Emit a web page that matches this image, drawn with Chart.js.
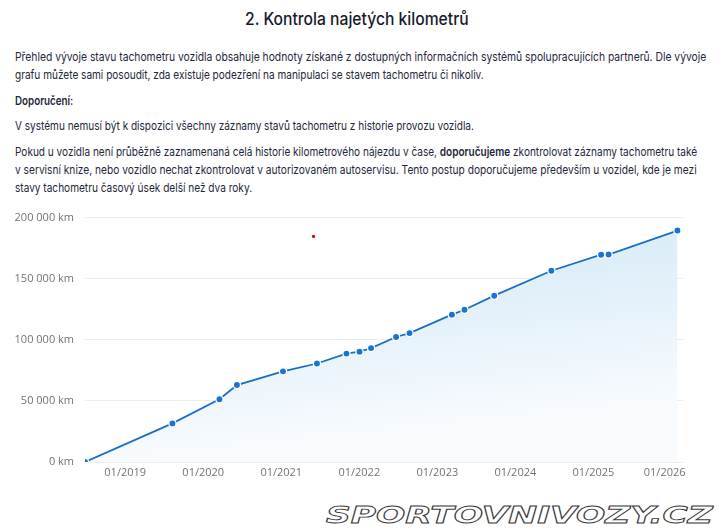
<!DOCTYPE html>
<html>
<head>
<meta charset="utf-8">
<script src="https://cdn.jsdelivr.net/npm/chart.js@4"></script>
<style>
  html,body{margin:0;padding:0;background:#fff;}
  body{width:720px;height:532px;position:relative;overflow:hidden;font-family:"Inter","Noto Sans",sans-serif;color:#1c2033;}
  .t{position:absolute;white-space:nowrap;transform-origin:0 50%;line-height:1;}
  .title{font-size:17px;font-weight:500;color:#161a2b;}
  .p{font-size:12px;color:#23273a;}
  .b{font-weight:600;}
  #wm{position:absolute;white-space:nowrap;transform-origin:0 50%;font-family:"DejaVu Sans",sans-serif;font-weight:bold;font-style:italic;font-size:23px;color:#fff;-webkit-text-stroke:0.9px #3a3a3a;letter-spacing:0px;line-height:1;}
  #cw{position:absolute;left:0;top:200px;width:720px;height:290px;}
</style>
</head>
<body>
<div class="t title" data-x="245" data-y="19" data-w="224">2. Kontrola najetých kilometrů</div>
<div class="t p" data-x="15" data-y="57" data-w="691">Přehled vývoje stavu tachometru vozidla obsahuje hodnoty získané z dostupných informačních systémů spolupracujících partnerů. Dle vývoje</div>
<div class="t p" data-x="15" data-y="75" data-w="469">grafu můžete sami posoudit, zda existuje podezření na manipulaci se stavem tachometru či nikoliv.</div>
<div class="t p b" data-x="15" data-y="101" data-w="58">Doporučení:</div>
<div class="t p" data-x="15" data-y="126" data-w="459">V systému nemusí být k dispozici všechny záznamy stavů tachometru z historie provozu vozidla.</div>
<div class="t p" data-x="15" data-y="152" data-w="682">Pokud u vozidla není průběžně zaznamenaná celá historie kilometrového nájezdu v čase, <span class="b">doporučujeme</span> zkontrolovat záznamy tachometru také</div>
<div class="t p" data-x="15" data-y="170" data-w="682">v servisní knize, nebo vozidlo nechat zkontrolovat v autorizovaném autoservisu. Tento postup doporučujeme především u vozidel, kde je mezi</div>
<div class="t p" data-x="15" data-y="188" data-w="237">stavy tachometru časový úsek delší než dva roky.</div>
<div id="wm" data-x="326" data-y="515" data-w="386">SPORTOVNIVOZY.CZ</div>
<div id="cw"><canvas id="c" width="720" height="290"></canvas></div>
<script>
// ---- data ----
const recordDates = ["2018-06-27","2019-08-10","2020-03-17","2020-06-07","2021-01-09","2021-06-17","2021-11-02","2022-01-02","2022-02-25","2022-06-22","2022-08-24","2023-03-10","2023-05-08","2023-09-24","2024-06-18","2025-02-06","2025-03-13","2026-01-29"];
const mileageKm = [0,31600,51400,63000,74200,80600,88700,90300,93200,102300,105500,120600,124600,136100,156500,169600,169800,189400];
const strayMarkDate = ["2021-06-01"];
const strayMarkKm = [184600];
const yTickValues = [0,50000,100000,150000,200000];
const xTickYears = [2019,2020,2021,2022,2023,2024,2025,2026];
const xRange = ["2018-06-27","2026-02-24"];

// ---- helpers ----
function toYear(s){
  const d = new Date(s+"T00:00:00Z");
  const y = d.getUTCFullYear();
  const a = Date.UTC(y,0,1), b = Date.UTC(y+1,0,1);
  return y + (d.getTime()-a)/(b-a);
}
function fmtKm(v){ return String(Math.round(v)).replace(/\B(?=(\d{3})+(?!\d))/g," ")+" km"; }

// fit text lines
document.querySelectorAll("[data-w]").forEach(el=>{
  const w = el.offsetWidth, h = el.offsetHeight;
  el.style.left = el.dataset.x+"px";
  el.style.top = (parseFloat(el.dataset.y)-h/2)+"px";
  el.style.transform = "scaleX("+(parseFloat(el.dataset.w)/w)+")";
});

const xMin = toYear(xRange[0]), xMax = toYear(xRange[1]);
const labelInset = 0.235;

const ctx = document.getElementById("c").getContext("2d");
new Chart(ctx,{
  type:"line",
  data:{
    datasets:[
      {
        data: recordDates.map((d,i)=>({x:toYear(d),y:mileageKm[i]})),
        borderColor:"#1b6fc2",
        borderWidth:1.8,
        tension:0,
        fill:"origin",
        backgroundColor:(c)=>{
          const a = c.chart.chartArea;
          if(!a) return "rgba(210,232,246,0.5)";
          const g = c.chart.ctx.createLinearGradient(a.left, a.top+10, a.left+25, a.bottom);
          g.addColorStop(0,"rgba(208,232,247,1)");
          g.addColorStop(0.55,"rgba(228,241,250,1)");
          g.addColorStop(1,"rgba(248,251,254,1)");
          return g;
        },
        pointRadius:3.6,
        pointBorderWidth:1.3,
        pointBorderColor:"#ffffff",
        pointBackgroundColor:"#1873d3",
        pointHoverRadius:3.6,
        order:2
      },
      {
        data: strayMarkDate.map((d,i)=>({x:toYear(d),y:strayMarkKm[i]})),
        showLine:false,
        pointRadius:1.7,
        pointBorderWidth:0,
        pointBackgroundColor:"#c8101a",
        order:1
      }
    ]
  },
  options:{
    animation:false,
    responsive:false,
    events:[],
    layout:{padding:{top:13,right:37,left:0,bottom:0}},
    plugins:{legend:{display:false},tooltip:{enabled:false}},
    scales:{
      x:{
        type:"linear",
        min:xMin, max:xMax,
        grid:{display:false,drawTicks:false},
        border:{display:false},
        afterBuildTicks:(s)=>{
          s.ticks = xTickYears.map(y=>({value: Math.min(y, xMax-labelInset), label:"01/"+y}));
        },
        afterTickToLabelConversion:(s)=>{
          s.ticks.forEach((t,i)=>{ t.label = "01/"+xTickYears[i]; });
        },
        ticks:{
          padding:4,
          maxRotation:0,
          autoSkip:false,
          color:"#6f737c",
          font:{family:"'Open Sans'",size:11}
        },
        afterFit:(s)=>{ s.height = 28; }
      },
      y:{
        min:0,max:200000,
        grid:{color:"#ededed",lineWidth:1,drawTicks:false},
        border:{display:false},
        afterBuildTicks:(s)=>{ s.ticks = yTickValues.map(v=>({value:v})); },
        ticks:{
          padding:11,
          color:"#6f737c",
          font:{family:"'Open Sans'",size:11},
          callback:(v)=>fmtKm(v)
        },
        afterFit:(s)=>{ s.width = 85; }
      }
    }
  }
});
</script>
</body>
</html>
